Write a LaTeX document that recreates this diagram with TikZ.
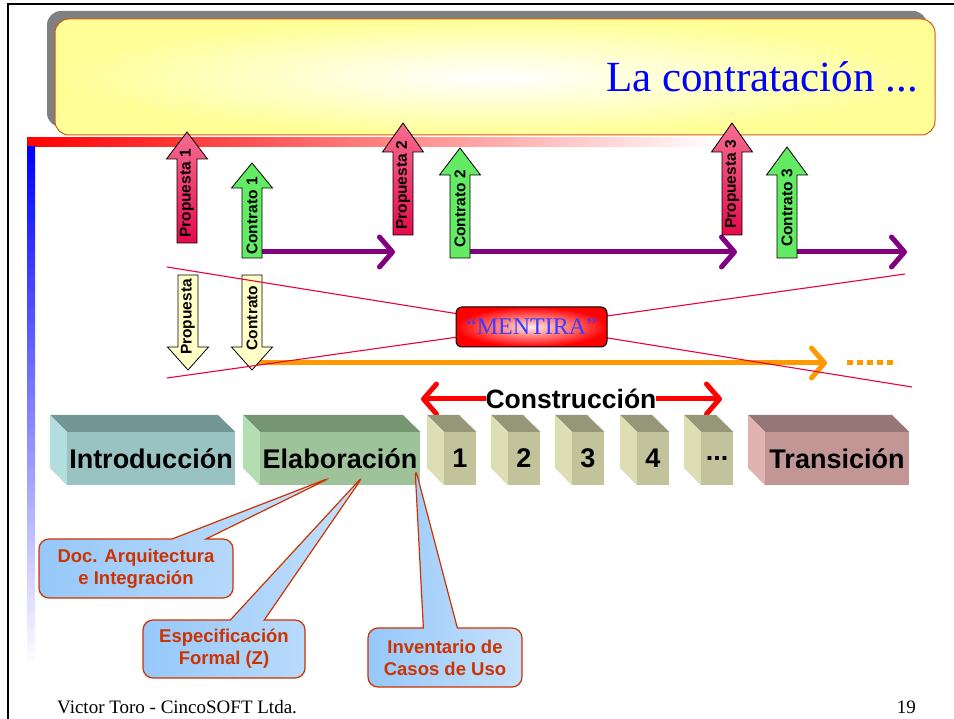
\documentclass[tikz,border=0pt]{standalone}
\usepackage{fontspec}
\setmainfont{Liberation Serif}
\setsansfont{Liberation Sans}
\usetikzlibrary{arrows.meta,shapes.callouts}

\definecolor{sombra}{RGB}{128,128,128}
\definecolor{amarillo}{RGB}{255,255,150}
\definecolor{bordeTitulo}{RGB}{210,90,20}
\definecolor{rojoProp}{RGB}{230,10,75}
\definecolor{rosaProp}{RGB}{245,110,145}
\definecolor{palidoProp}{RGB}{255,220,228}
\definecolor{verdeCont}{RGB}{100,235,100}
\definecolor{verdeClaro}{RGB}{205,255,205}
\definecolor{amarilloBajo}{RGB}{255,255,200}
\definecolor{morado}{RGB}{128,0,128}
\definecolor{naranja}{RGB}{255,153,0}
\definecolor{rojoCruz}{RGB}{235,0,60}
\definecolor{azulLlamada}{RGB}{150,200,250}
\definecolor{naranjaOsc}{RGB}{204,51,0}
\definecolor{introFrente}{RGB}{153,195,195}
\definecolor{introTapa}{RGB}{115,150,150}
\definecolor{introLado}{RGB}{178,222,222}
\definecolor{elabFrente}{RGB}{158,195,155}
\definecolor{elabTapa}{RGB}{118,150,115}
\definecolor{elabLado}{RGB}{180,222,178}
\definecolor{consFrente}{RGB}{195,195,155}
\definecolor{consTapa}{RGB}{150,150,120}
\definecolor{consLado}{RGB}{222,222,180}
\definecolor{tranFrente}{RGB}{195,150,150}
\definecolor{tranTapa}{RGB}{150,118,118}
\definecolor{tranLado}{RGB}{225,178,178}

% arrow pointing up: name, x, tip, head base, bottom, style, text, text bottom
\newcommand{\flechaSube}[8]{%
  \path[#6] (#2-10,#5) -- (#2-10,#4) -- (#2-20.5,#4) -- (#2,#3) -- (#2+20.5,#4) -- (#2+10,#4) -- (#2+10,#5) -- cycle;
  \node[etiqueta, rotate=90, anchor=west] (#1) at (#2,#8) {#7};
}
% arrow pointing down: name, x, top, head base, tip, text, text centre
\newcommand{\flechaBaja}[7]{%
  \path[baja] (#2-10,#3) -- (#2-10,#4) -- (#2-20.5,#4) -- (#2,#5) -- (#2+20.5,#4) -- (#2+10,#4) -- (#2+10,#3) -- cycle;
  \node[etiqueta, rotate=90] (#1) at (#2,#7) {#6};
}
% phase block: name, centre x, width, front, top, side, text
\newcommand{\bloque}[7]{%
  \node[cara, fill=#4, minimum width=#3] (#1) at (#2,458.5) {#7};
  \fill[#5] (#1.north west) -- ++(-17,-17) -- ++(#3,0) -- (#1.north east) -- cycle;
  \fill[#6] (#1.north west) -- ++(-17,-17) -- ++(0,53) -- (#1.south west) -- cycle;
}

\begin{document}
\begin{tikzpicture}[x=1pt,y=-1pt,
    etiqueta/.style={inner sep=0pt, font=\sffamily\bfseries\fontsize{15.5}{16}\selectfont},
    prop/.style={draw=black, line width=0.8pt, top color=rosaProp, middle color=palidoProp, bottom color=rojoProp},
    cont/.style={draw=black, line width=0.8pt, top color=verdeCont, middle color=verdeClaro, bottom color=verdeCont},
    baja/.style={draw=black, line width=0.8pt, fill=amarilloBajo},
    plazo/.style={morado, line width=5pt, -{Straight Barb[round,length=13pt,width=30pt]}},
    cruz/.style={rojoCruz, line width=1.1pt},
    cara/.style={inner sep=0pt, minimum height=53, font=\sffamily\bfseries\fontsize{27}{27}\selectfont},
    llamada/.style={rectangle callout, draw=naranjaOsc, line width=1.2pt, rounded corners=10pt,
      left color=azulLlamada, middle color=white, right color=azulLlamada!55,
      callout pointer width=34pt, text=naranjaOsc, align=center, inner sep=0pt,
      font=\sffamily\bfseries\fontsize{18.5}{22}\selectfont}]
  \useasboundingbox (0,0) rectangle (954,719);

  % Frame
  \draw[line width=2.5pt] (8,719) -- (8,4) -- (954,4);

  % Title
  \fill[sombra, rounded corners=14pt] (47,11) rectangle (927,127);
  \shade[draw=bordeTitulo, line width=1pt, inner color=white, outer color=amarillo, rounded corners=14pt]
    (55,19) rectangle (935,135);
  \node[anchor=base east, text=blue, inner sep=0pt, font=\fontsize{43}{48}\selectfont] (titulo) at (918,92) {La contrataci\'on ...};

  % Bars
  \shade[left color=red, right color=white] (27,138) rectangle (720,147);
  \shade[top color=blue, middle color={rgb,255:red,195;green,195;blue,255}, bottom color=white] (27,147) rectangle (35,665);

  % Contract periods (purple)
  \coordinate (p1) at (262,252);
  \coordinate (p1f) at (395,252);
  \coordinate (p2) at (470,252);
  \coordinate (p2f) at (737,252);
  \coordinate (p3) at (797,252);
  \coordinate (p3f) at (907,252);
  \draw[plazo] (p1) -- (p1f);
  \draw[plazo] (p2) -- (p2f);
  \draw[plazo] (p3) -- (p3f);

  % Up arrows
  \flechaSube{prop1}{187}{132}{159}{243}{prop}{Propuesta 1}{238}
  \flechaSube{cont1}{252}{163}{188}{258}{cont}{Contrato 1}{255}
  \flechaSube{prop2}{403}{123}{152}{235}{prop}{Propuesta 2}{230}
  \flechaSube{cont2}{460}{148}{175}{258}{cont}{Contrato 2}{248}
  \flechaSube{prop3}{732}{123}{152}{235}{prop}{Propuesta 3}{229}
  \flechaSube{cont3}{787}{147}{175}{258}{cont}{Contrato 3}{247}

  % Single contract (orange)
  \coordinate (o1) at (255,363);
  \coordinate (o1f) at (827,363);
  \coordinate (o2) at (847,363);
  \coordinate (o2f) at (897,363);
  \draw[naranja, line width=5pt, -{Straight Barb[round,length=13pt,width=30pt]}] (o1) -- (o1f);
  \draw[naranja, line width=5pt, dash pattern=on 6pt off 4pt] (o2) -- (o2f);

  % Down arrows
  \flechaBaja{propB}{188}{275}{347}{370}{Propuesta}{317}
  \flechaBaja{contB}{252}{275}{347}{370}{Contrato}{318}

  % Crossed out
  \coordinate (x1) at (167,267);
  \coordinate (x1f) at (912,387);
  \coordinate (x2) at (167,378);
  \coordinate (x2f) at (905,274);
  \draw[cruz] (x1) -- (x1f);
  \draw[cruz] (x2) -- (x2f);
  \node[draw=black, line width=1pt, rounded corners=6pt, inner color={rgb,255:red,255;green,235;blue,235}, outer color=red,
    minimum width=151, minimum height=40, inner sep=0pt, text={rgb,255:red,60;green,60;blue,255},
    font=\fontsize{24}{24}\selectfont] (mentira) at (531.5,327) {``MENTIRA''};

  % Construction
  \coordinate (c1) at (421,399);
  \coordinate (c2) at (722,399);
  \draw[red, line width=5pt, {Straight Barb[round,length=13pt,width=30pt]}-{Straight Barb[round,length=13pt,width=30pt]}] (c1) -- (c2);
  \node[fill=white, inner xsep=0pt, inner ysep=1pt, font=\sffamily\bfseries\fontsize{26.5}{27}\selectfont] (construccion) at (571,399) {Construcci\'on};

  % Phases
  \bloque{intro}{151}{168}{introFrente}{introTapa}{introLado}{Introducci\'on}
  \bloque{elab}{340}{160}{elabFrente}{elabTapa}{elabLado}{Elaboraci\'on}
  \bloque{it1}{460}{32}{consFrente}{consTapa}{consLado}{1}
  \bloque{it2}{524}{32}{consFrente}{consTapa}{consLado}{2}
  \bloque{it3}{588}{32}{consFrente}{consTapa}{consLado}{3}
  \bloque{it4}{653}{32}{consFrente}{consTapa}{consLado}{4}
  \bloque{itn}{717}{32}{consFrente}{consTapa}{consLado}{...}
  \bloque{tran}{837}{144}{tranFrente}{tranTapa}{tranLado}{Transici\'on}

  % Callouts
  \node[llamada, minimum width=194, minimum height=59, callout absolute pointer={(332,477)}] (doc) at (136,568.5)
    {Doc. Arquitectura\\e Integraci\'on};
  \node[llamada, minimum width=162, minimum height=58, callout absolute pointer={(364,475)}] (espec) at (224,649)
    {Especificaci\'on\\Formal (Z)};
  \node[llamada, minimum width=154, minimum height=59, callout absolute pointer={(415,467)}] (inv) at (445,657.5)
    {Inventario de\\Casos de Uso};

  % Footer
  \node[anchor=base west, inner sep=0pt, font=\fontsize{19}{20}\selectfont] (autor) at (57,713) {Victor Toro - CincoSOFT Ltda.};
  \node[anchor=base east, inner sep=0pt, font=\fontsize{19}{20}\selectfont] (pagina) at (916,713) {19};
\end{tikzpicture}
\end{document}
